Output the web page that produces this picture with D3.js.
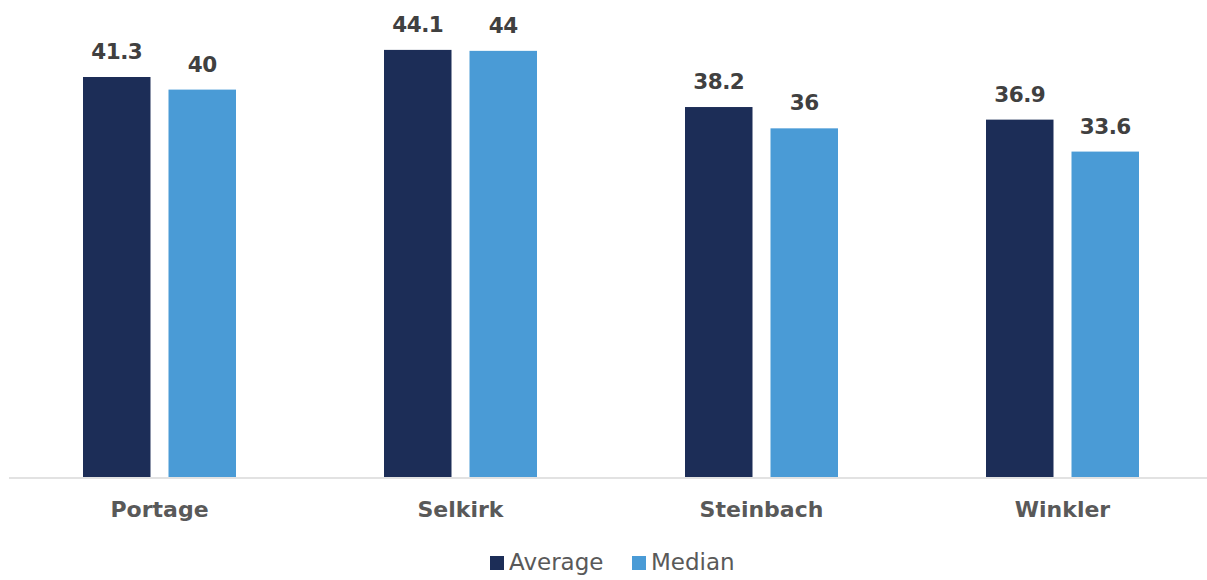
<!DOCTYPE html>
<html><head><meta charset="utf-8">
<script src="https://cdn.jsdelivr.net/npm/d3@7"></script>
<style>body{margin:0;background:#fff}svg{display:block}</style>
</head><body>
<script>
const categories = ["Portage", "Selkirk", "Steinbach", "Winkler"];
const series = ["Average", "Median"];
const averageValues = [41.3, 44.1, 38.2, 36.9];
const medianValues = [40, 44, 36, 33.6];
const colors = {"Average": "#1c2d57", "Median": "#4a9bd6"};

const W = 1207, H = 580;
const svg = d3.select("body").append("svg").attr("width", W).attr("height", H);
const baseY = 477;
const x0 = d3.scaleBand().domain(categories).range([9, 1213]);
const x1 = d3.scaleBand().domain(series).range([-76.5, 76.5]).paddingInner(0.2105);
const y = d3.scaleLinear().domain([0, 50]).range([baseY, baseY - 484.25]);

const data = categories.map((c, i) => ({cat: c, vals: [
  {s: "Average", v: averageValues[i]}, {s: "Median", v: medianValues[i]}]}));

const g = svg.selectAll("g.cat").data(data).join("g")
  .attr("transform", d => `translate(${x0(d.cat) + x0.bandwidth()/2},0)`);
g.selectAll("rect").data(d => d.vals).join("rect")
  .attr("x", d => x1(d.s)).attr("width", x1.bandwidth())
  .attr("y", d => y(d.v)).attr("height", d => y(0) - y(d.v))
  .attr("fill", d => colors[d.s]);
g.selectAll("text.val").data(d => d.vals).join("text").attr("class", "val")
  .attr("x", d => x1(d.s) + x1.bandwidth()/2).attr("y", d => y(d.v) - 18)
  .attr("text-anchor", "middle").attr("font-family", "DejaVu Sans").attr("font-weight", "bold")
  .attr("font-size", 21.5).attr("letter-spacing", -0.5).attr("fill", "#404040").text(d => d.v);

// axis
const axis = svg.append("g").attr("transform", `translate(0,${baseY + 1})`)
  .call(d3.axisBottom(x0).tickSize(0).tickPadding(0));
axis.select(".domain").attr("stroke", "#d9d9d9").attr("stroke-width", 1.5).attr("d", "M9,0H1207");
axis.selectAll(".tick text").attr("y", 39).attr("dy", 0)
  .attr("font-family", "DejaVu Sans").attr("font-weight", "bold").attr("font-size", 22).attr("fill", "#595959");

// legend
const legendItems = [{s: "Average", x: 490}, {s: "Median", x: 632}];
const lg = svg.selectAll("g.leg").data(legendItems).join("g")
  .attr("transform", d => `translate(${d.x},556)`);
lg.append("rect").attr("width", 14).attr("height", 14).attr("fill", d => colors[d.s]);
lg.append("text").attr("x", 19).attr("y", 13.5).attr("font-family", "DejaVu Sans")
  .attr("font-size", 23).attr("fill", "#595959").text(d => d.s);
</script>
</body></html>
